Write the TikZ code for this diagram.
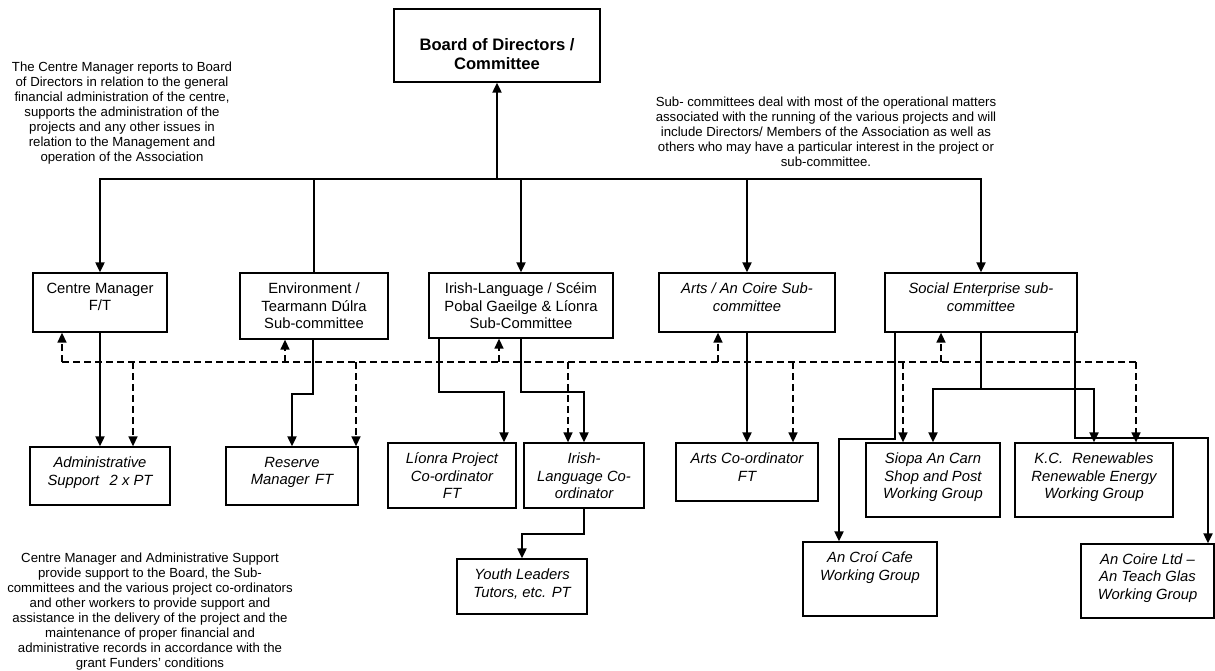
\documentclass[tikz,border=0pt]{standalone}
\usepackage{fontspec}
\setmainfont{Liberation Sans}
\usetikzlibrary{arrows.meta}
\begin{document}
\begin{tikzpicture}[x=1pt,y=-1pt,
  box/.style={draw, line width=1.3pt, inner sep=0pt},
  conn/.style={line width=2pt},
  dsh/.style={line width=1.5pt, dash pattern=on 7pt off 4pt},
  arr/.style={-{Triangle[length=10pt,width=9pt]}},
  bt/.style={font=\fontsize{14.8}{17.5}\selectfont, align=center, inner sep=0pt, anchor=north},
  bti/.style={font=\fontsize{14.8}{17.5}\selectfont\itshape, align=center, inner sep=0pt, anchor=north},
  note/.style={font=\fontsize{13.2}{15}\selectfont, align=center, inner sep=0pt, anchor=north}]
\useasboundingbox (0,0) rectangle (1215,671);

% ---- boxes ----
\node[box, minimum width=206, minimum height=73] (board) at (497,45.5) {};
\node[align=center, inner sep=0pt, font=\fontsize{16.6}{19}\selectfont\bfseries] (boardT) at ([yshift=-9pt]board.center) {Board of Directors /\\Committee};

\node[box, minimum width=134, minimum height=59] (cm) at (100,302.5) {};
\node[box, minimum width=148, minimum height=66] (env) at (314,306) {};
\node[box, minimum width=184, minimum height=65] (irish) at (521,305.5) {};
\node[box, minimum width=176, minimum height=59] (arts) at (747,302.5) {};
\node[box, minimum width=192, minimum height=59] (social) at (981,302.5) {};

\node[box, minimum width=140, minimum height=58] (admin) at (100,476) {};
\node[box, minimum width=132, minimum height=58] (reserve) at (292,476) {};
\node[box, minimum width=128, minimum height=65] (lionra) at (452,475.5) {};
\node[box, minimum width=120, minimum height=65] (irishco) at (584,475.5) {};
\node[box, minimum width=130, minimum height=55] (youth) at (522,586.5) {};
\node[box, minimum width=142, minimum height=58] (artsco) at (747,472) {};
\node[box, minimum width=134, minimum height=74] (siopa) at (933,480) {};
\node[box, minimum width=158, minimum height=74] (kc) at (1094,480) {};
\node[box, minimum width=134, minimum height=74] (croi) at (870,579) {};
\node[box, minimum width=133, minimum height=74] (coire) at (1147.5,581) {};

% ---- box texts ----
\node[bt] (cmT) at ([yshift=-10.5pt]cm.north) {Centre Manager\\F/T};
\node[bt] (envT) at ([yshift=-10.5pt]env.north) {Environment /\\Tearmann Dúlra\\Sub-committee};
\node[bt] (irishT) at ([yshift=-10.5pt]irish.north) {Irish-Language / Scéim\\Pobal Gaeilge \& Líonra\\Sub-Committee};
\node[bti] (artsT) at ([yshift=-10.5pt]arts.north) {Arts / An Coire Sub-\\committee};
\node[bti] (socialT) at ([yshift=-10.5pt]social.north) {Social Enterprise sub-\\committee};

\node[bti] (adminT) at ([yshift=-10.5pt]admin.north) {Administrative\\Support\hspace{0.7em}2 x PT};
\node[bti] (reserveT) at ([yshift=-10.5pt]reserve.north) {Reserve\\Manager\hspace{0.4em}FT};
\node[bti] (lionraT) at ([yshift=-10.5pt]lionra.north) {Líonra Project\\Co-ordinator\\FT};
\node[bti] (irishcoT) at ([yshift=-10.5pt]irishco.north) {Irish-\\Language Co-\\ordinator};
\node[bti] (youthT) at ([yshift=-10.5pt]youth.north) {Youth Leaders\\Tutors, etc. PT};
\node[bti] (artscoT) at ([yshift=-10.5pt]artsco.north) {Arts Co-ordinator\\FT};
\node[bti] (siopaT) at ([yshift=-10.5pt]siopa.north) {Siopa An Carn\\Shop and Post\\Working Group};
\node[bti] (kcT) at ([yshift=-10.5pt]kc.north) {K.C.\hspace{0.6em}Renewables\\Renewable Energy\\Working Group};
\node[bti] (croiT) at ([yshift=-10.5pt]croi.north) {An Croí Cafe\\Working Group};
\node[bti] (coireT) at ([yshift=-10pt]coire.north) {An Coire Ltd –\\An Teach Glas\\Working Group};

% ---- notes ----
\node[note] (noteA) at (122,62) {The Centre Manager reports to Board\\of Directors in relation to the general\\financial administration of the centre,\\supports the administration of the\\projects and any other issues in\\relation to the Management and\\operation of the Association};
\node[note] (noteB) at (826,97) {Sub- committees deal with most of the operational matters\\associated with the running of the various projects and will\\include Directors/ Members of the Association as well as\\others who may have a particular interest in the project or\\sub-committee.};
\node[note] (noteC) at (150,553) {Centre Manager and Administrative Support\\provide support to the Board, the Sub-\\committees and the various project co-ordinators\\and other workers to provide support and\\assistance in the delivery of the project and the\\maintenance of proper financial and\\administrative records in accordance with the\\grant Funders' conditions};

% ---- solid hierarchy ----
\coordinate (busB) at (497,179);
\draw[conn,arr] (busB) -- (board.south);
\draw[conn,arr] (busB) -| (cm.north);
\draw[conn] (busB) -| (env.north);
\draw[conn,arr] (busB) -| (irish.north);
\draw[conn,arr] (busB) -| (arts.north);
\draw[conn,arr] (busB) -| (social.north);

\draw[conn,arr] (cm.south) -- (admin.north);
\draw[conn,arr] ([xshift=-1pt]env.south) -- ++(0,54) -| (reserve.north);
\draw[conn,arr] ([xshift=11pt]irish.south west) -- ++(0,53) -| ([xshift=52pt]lionra.north);
\draw[conn,arr] (irish.south) -- ++(0,53) -| (irishco.north);
\draw[conn,arr] (irishco.south) -- ++(0,25) -| (youth.north);
\draw[conn,arr] (arts.south) -- (artsco.north);
\draw[conn] (social.south) -- ++(0,56) coordinate (sj);
\draw[conn,arr] (sj) -| (siopa.north);
\draw[conn,arr] (sj) -| (kc.north);
\draw[conn,arr] ([xshift=11pt]social.south west) -- ++(0,106) -| ([xshift=-31pt]croi.north);
\draw[conn,arr] ([xshift=-3pt]social.south east) -- ++(0,105) -| ([xshift=60.5pt]coire.north);

% ---- dashed support lines ----
\coordinate (dbL) at (62,362);
\coordinate (dbR) at (1136,362);
\coordinate (u2) at (285,362);
\coordinate (u3) at (499,362);
\coordinate (u4) at (718,362);
\coordinate (u5) at (941,362);
\coordinate (d1) at (133,362);
\coordinate (d2) at (356,362);
\coordinate (d3) at (568,362);
\coordinate (d4) at (793,362);
\coordinate (d5) at (903,362);
\draw[dsh] (dbL) -- (dbR);
\draw[dsh,arr] (dbL) -- (dbL |- cm.south);
\draw[dsh,arr] (u2) -- (u2 |- env.south);
\draw[dsh,arr] (u3) -- (u3 |- irish.south);
\draw[dsh,arr] (u4) -- (u4 |- arts.south);
\draw[dsh,arr] (u5) -- (u5 |- social.south);
\draw[dsh,arr] (d1) -- (d1 |- admin.north);
\draw[dsh,arr] (d2) -- (d2 |- reserve.north);
\draw[dsh,arr] (d3) -- (d3 |- irishco.north);
\draw[dsh,arr] (d4) -- (d4 |- artsco.north);
\draw[dsh,arr] (d5) -- (d5 |- siopa.north);
\draw[dsh,arr] (dbR) -- (dbR |- kc.north);
\end{tikzpicture}
\end{document}
